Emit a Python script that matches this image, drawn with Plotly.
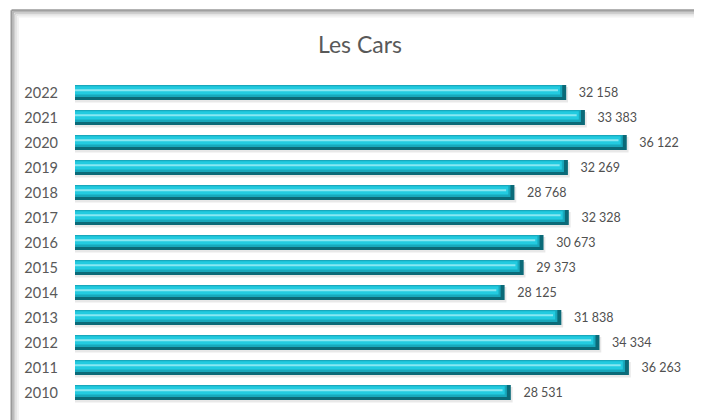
import plotly.graph_objects as go

years = ["2010", "2011", "2012", "2013", "2014", "2015", "2016",
         "2017", "2018", "2019", "2020", "2021", "2022"]
values = [28531, 36263, 34334, 31838, 28125, 29373, 30673,
          32328, 28768, 32269, 36122, 33383, 32158]
title_text = "Les Cars"

FONT = "Lato, 'Open Sans', sans-serif"
XMAX = 40000
OFF = 8  # page body margin compensation

fig = go.Figure()

common = dict(orientation="h", hoverinfo="skip", showlegend=False,
              constraintext="none", cliponaxis=False)

# soft shadow under the bars
fig.add_trace(go.Bar(y=years, x=[v + 120 for v in values],
                     width=0.62, offset=-0.40,
                     marker=dict(color="rgba(0,0,0,0.09)", line=dict(width=0)),
                     **common))
# dark base of the cylinder
fig.add_trace(go.Bar(y=years, x=values,
                     width=0.60, offset=-0.30,
                     marker=dict(color="#0b6a78", line=dict(width=0)),
                     texttemplate="\u00a0\u00a0\u00a0%{x:,}",
                     textposition="outside",
                     textfont=dict(family=FONT, size=12.5, color="#505050"),
                     **common))
# mid tone
fig.add_trace(go.Bar(y=years, x=[v - 260 for v in values],
                     width=0.48, offset=-0.18,
                     marker=dict(color="#18a8bc", line=dict(width=0)),
                     **common))
# bright band
fig.add_trace(go.Bar(y=years, x=[v - 400 for v in values],
                     width=0.33, offset=-0.08,
                     marker=dict(color="#22cbe0", line=dict(width=0)),
                     **common))
# highlight stripe
fig.add_trace(go.Bar(y=years, x=[v - 540 for v in values],
                     width=0.08, offset=0.05,
                     marker=dict(color="#88e7f2", line=dict(width=0)),
                     **common))

W, H = 702 - OFF, 420 - OFF  # figure size (page origin offset by OFF)
L, T = 75 - OFF, 79.5 - OFF
R = W - ((702 - 16) - OFF)
B = H - (405.5 - OFF)
pw, ph = W - L - R, H - T - B


def px_x(x):
    return (x - OFF - L) / pw


def px_y(y):
    return (H - B - (y - OFF)) / ph


# frame (top and left edges) with inner shadow
shapes = []
for i, col in enumerate(["#9a9a9a", "#b5b5b5", "#cfcfcf", "#e4e4e4", "#f2f2f2"]):
    xl = px_x(11.5 + 1.6 * i)
    yt = px_y(9.5 + 1.6 * i)
    shapes.append(dict(type="line", xref="paper", yref="paper",
                       x0=xl, x1=px_x(720), y0=yt, y1=yt,
                       line=dict(color=col, width=2), layer="below"))
    shapes.append(dict(type="line", xref="paper", yref="paper",
                       x0=xl, x1=xl, y0=px_y(440), y1=yt,
                       line=dict(color=col, width=2), layer="below"))

fig.update_layout(
    width=W, height=H,
    margin=dict(l=L, r=R, t=T, b=B),
    paper_bgcolor="white", plot_bgcolor="rgba(0,0,0,0)",
    barmode="overlay",
    separators=". ",
    shapes=shapes,
    annotations=[dict(text=title_text, xref="paper", yref="paper",
                      x=px_x(360), y=px_y(43), xanchor="center", yanchor="middle",
                      showarrow=False,
                      font=dict(family=FONT, size=23, color="#595959"))],
    xaxis=dict(range=[0, XMAX], visible=False, fixedrange=True),
    yaxis=dict(type="category", categoryorder="array", categoryarray=years,
               showgrid=False, zeroline=False, showline=False, ticks="",
               ticklabelstandoff=16,
               tickfont=dict(family=FONT, size=14.5, color="#595959")),
    font=dict(family=FONT),
)

fig.write_html("out.html")
